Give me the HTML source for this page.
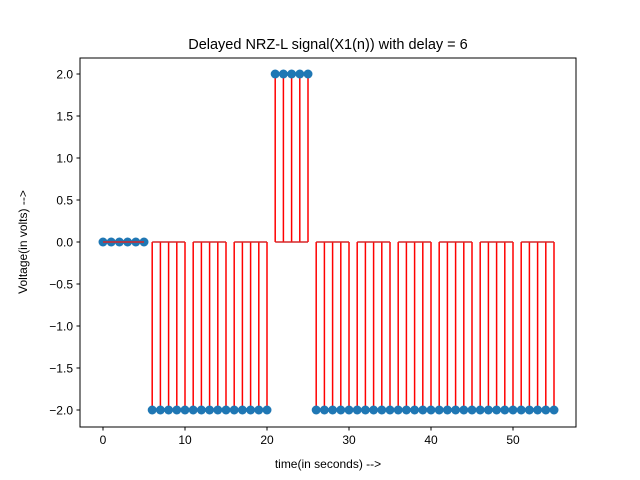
<!DOCTYPE html>
<html><head><meta charset="utf-8"><style>body{margin:0;background:#fff}svg{display:block;font-family:"Liberation Sans","DejaVu Sans",sans-serif}</style></head>
<body>
<svg id="c" width="640" height="480"></svg>
<script>
const values = [0,0,0,0,0,0, -2,-2,-2,-2,-2, -2,-2,-2,-2,-2, -2,-2,-2,-2,-2, 2,2,2,2,2, -2,-2,-2,-2,-2, -2,-2,-2,-2,-2, -2,-2,-2,-2,-2, -2,-2,-2,-2,-2, -2,-2,-2,-2,-2, -2,-2,-2,-2,-2];
const groupStarts = [0,6,11,16,21,26,31,36,41,46,51];
const groupEnds = [5,10,15,20,25,30,35,40,45,50,55];
const xTicks = [0,10,20,30,40,50];
const yTicks = [-2,-1.5,-1,-0.5,0,0.5,1,1.5,2];
const yTickLabels = ["\u22122.0","\u22121.5","\u22121.0","\u22120.5","0.0","0.5","1.0","1.5","2.0"];

const L=80,R=576,T=58,B=427;
const xs=v=>103+v*8.2;
const ys=v=>242-v*84;
const svg=document.getElementById('c');
const NS='http://www.w3.org/2000/svg';
function mk(tag,attrs,parent){const e=document.createElementNS(NS,tag);for(const k in attrs)e.setAttribute(k,attrs[k]);(parent||svg).appendChild(e);return e;}

const title=mk('text',{x:328,y:49,'text-anchor':'middle','font-size':14.5,fill:'#000'});
title.textContent='Delayed NRZ-L signal(X1(n)) with delay = 6';



const stems=mk('g',{});


values.forEach((v,i)=>{
  const l=mk('line',{x1:xs(i),x2:xs(i),y1:ys(0),y2:ys(v),stroke:'#ff0000','stroke-width':1.5},stems);
  
  
});
values.forEach((v,i)=>{
  const c=mk('circle',{cx:xs(i),cy:ys(v),r:4.5,fill:'#1f77b4'});
  
  
});
groupStarts.forEach((s,g)=>{
  const l=mk('line',{x1:xs(s),x2:xs(groupEnds[g]),y1:ys(0),y2:ys(0),stroke:'#d62728','stroke-width':1.5});
  
  
});

const frame=mk('rect',{x:L,y:T,width:R-L,height:B-T,fill:'none',stroke:'#000','stroke-width':1});



xTicks.forEach(t=>{
  const x=xs(t);
  const tk=mk('line',{x1:x,x2:x,y1:B,y2:B+3.5,stroke:'#000'});
  
  
  const tx=mk('text',{x:x,y:B+17,'text-anchor':'middle','font-size':12});
  tx.textContent=t;
  
  
});
yTicks.forEach((t,i)=>{
  const y=ys(t);
  const tk=mk('line',{x1:L-3.5,x2:L,y1:y,y2:y,stroke:'#000'});
  
  
  const tx=mk('text',{x:L-7,y:y+4.5,'text-anchor':'end','font-size':12});
  tx.textContent=yTickLabels[i];
  
  
});
const xl=mk('text',{x:328,y:468,'text-anchor':'middle','font-size':12});
xl.textContent='time(in seconds) -->';


const yl=mk('text',{x:27,y:242,'text-anchor':'middle','font-size':12,transform:'rotate(-90 27 242)'});
yl.textContent='Voltage(in volts) -->';


</script>
</body></html>
